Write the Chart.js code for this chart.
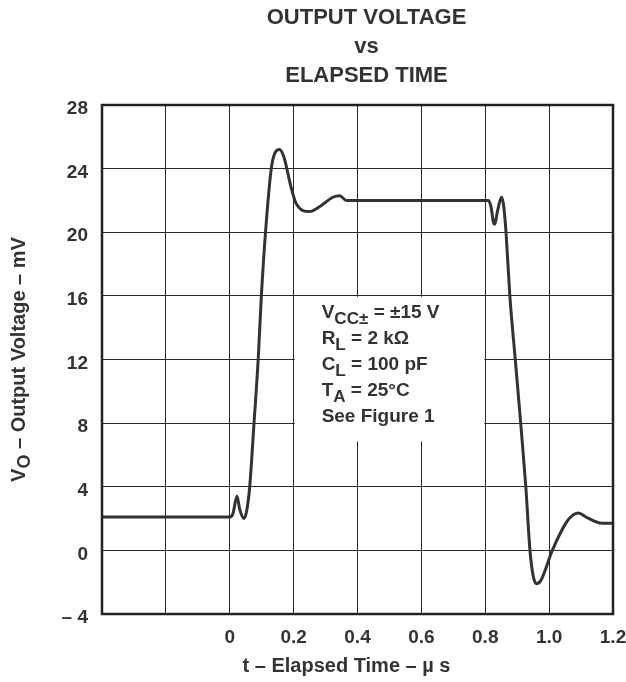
<!DOCTYPE html>
<html>
<head>
<meta charset="utf-8">
<script src="https://cdn.jsdelivr.net/npm/chart.js@4.4.1/dist/chart.umd.min.js"></script>
<style>
  body { margin: 0; background: #fff; }
  #wrap { width: 626px; height: 682px; }
</style>
</head>
<body>
<div id="wrap"><canvas id="voltChart" width="626" height="682"></canvas></div>
<script>
// elapsed time in microseconds, output voltage in mV
const timeUs = [-0.4, 0.0, 0.01, 0.017, 0.023, 0.031, 0.045, 0.054, 0.0625, 0.076, 0.089, 0.099, 0.112, 0.130,
  0.142, 0.156, 0.17, 0.19, 0.208, 0.25, 0.281, 0.323, 0.344, 0.365, 0.4, 0.6, 0.81, 0.818, 0.826, 0.830,
  0.838, 0.852, 0.858, 0.865, 0.877, 0.894, 0.911, 0.927, 0.940, 0.95, 0.96, 0.974, 1.01, 1.052, 1.073, 1.092,
  1.115, 1.146, 1.167, 1.2];
const voltageMv = [2.1, 2.1, 2.3, 3.0, 3.4, 2.6, 2.0, 2.6, 4.0, 8.0, 12.0, 16.0, 20.0, 24.0,
  25.0, 25.2, 24.7, 23.0, 21.8, 21.3, 21.6, 22.2, 22.3, 22.0, 22.0, 22.0, 22.0, 21.6, 20.6, 20.5,
  21.3, 22.2, 21.6, 20.0, 16.0, 12.0, 8.0, 4.0, 0.0, -1.6, -2.1, -1.9, 0.0, 1.7, 2.2, 2.35,
  2.1, 1.8, 1.7, 1.7];

const xTickValues = [-0.4, -0.2, 0, 0.2, 0.4, 0.6, 0.8, 1.0, 1.2];
const xTickLabels = ['', '', '0', '0.2', '0.4', '0.6', '0.8', '1.0', '1.2'];
const yTickValues = [-4, 0, 4, 8, 12, 16, 20, 24, 28];
const yTickLabels = ['– 4', '0', '4', '8', '12', '16', '20', '24', '28'];

const titleLines = ['OUTPUT VOLTAGE', 'vs', 'ELAPSED TIME'];
const conditions = [
  [['V'], ['CC±', 1], [' = ±15 V']],
  [['R'], ['L', 1], [' = 2 kΩ']],
  [['C'], ['L', 1], [' = 100 pF']],
  [['T'], ['A', 1], [' = 25°C']],
  [['See Figure 1']]
];

const FONT = '"Liberation Sans", Arial, sans-serif';
const INK = '#333';

function richWidth(ctx, parts, size) {
  let w = 0;
  parts.forEach(p => {
    ctx.font = 'bold ' + (p[1] ? size * 0.9 : size) + 'px ' + FONT;
    w += ctx.measureText(p[0]).width;
  });
  return w;
}

function drawRich(ctx, parts, x, y, size) {
  let cx = x;
  parts.forEach(p => {
    ctx.font = 'bold ' + (p[1] ? size * 0.9 : size) + 'px ' + FONT;
    ctx.fillText(p[0], cx, p[1] ? y + size * 0.3 : y);
    cx += ctx.measureText(p[0]).width;
  });
}

const decorPlugin = {
  id: 'decor',
  beforeDatasetsDraw(chart) {
    // blank the grid behind the test-condition block
    const { ctx, scales: { x, y } } = chart;
    ctx.save();
    ctx.fillStyle = '#fff';
    const l = x.getPixelForValue(0.2) + 1, r = x.getPixelForValue(0.8) - 1;
    const t = y.getPixelForValue(16) + 1, b = y.getPixelForValue(6.85);
    ctx.fillRect(l, t, r - l, b - t);
    ctx.restore();
  },
  afterDraw(chart) {
    const { ctx, chartArea: a, scales: { x, y } } = chart;
    ctx.save();
    // frame
    ctx.strokeStyle = '#222';
    ctx.lineWidth = 2.5;
    ctx.strokeRect(a.left, a.top, a.right - a.left, a.bottom - a.top);

    ctx.fillStyle = INK;
    ctx.textBaseline = 'middle';
    ctx.textAlign = 'center';
    ctx.font = 'bold 22px ' + FONT;
    const tx = (a.left + a.right) / 2 + 9;
    titleLines.forEach((s, i) => ctx.fillText(s, tx, 18 + i * 29));

    // conditions
    ctx.textAlign = 'left';
    ctx.textBaseline = 'alphabetic';
    const cx = x.getPixelForValue(0.2) + 28;
    let cy = y.getPixelForValue(16) + 22;
    conditions.forEach(line => {
      drawRich(ctx, line, cx, cy, 19);
      cy += 26;
    });

    // x axis title
    ctx.textAlign = 'center';
    ctx.textBaseline = 'middle';
    ctx.font = 'bold 20px ' + FONT;
    ctx.fillText('t – Elapsed Time – µ s', (a.left + a.right) / 2 - 11, 666);

    // y axis title, rotated
    const yParts = [['V'], ['O', 1], [' – Output Voltage – mV']];
    ctx.translate(19, (a.top + a.bottom) / 2);
    ctx.rotate(-Math.PI / 2);
    ctx.textAlign = 'left';
    ctx.textBaseline = 'middle';
    const w = richWidth(ctx, yParts, 20);
    drawRich(ctx, yParts, -w / 2, 0, 20);
    ctx.restore();
  }
};

new Chart(document.getElementById('voltChart').getContext('2d'), {
  type: 'line',
  data: {
    datasets: [{
      data: timeUs.map((t, i) => ({ x: t, y: voltageMv[i] })),
      borderColor: '#333',
      borderWidth: 3,
      pointRadius: 0,
      cubicInterpolationMode: 'monotone',
      fill: false
    }]
  },
  options: {
    responsive: false,
    animation: false,
    layout: { padding: { top: 105, right: 0, left: 0, bottom: 0 } },
    plugins: { legend: { display: false }, tooltip: { enabled: false }, title: { display: false } },
    scales: {
      x: {
        type: 'linear',
        min: -0.4,
        max: 1.2,
        afterBuildTicks: s => { s.ticks = xTickValues.map(v => ({ value: v })); },
        afterFit: s => { s.height = 68; s.paddingRight = 13; },
        grid: { color: '#2a2a2a', lineWidth: 1, drawTicks: false },
        border: { display: false },
        ticks: {
          padding: 12,
          maxRotation: 0,
          autoSkip: false,
          color: INK,
          font: { family: FONT, size: 19, weight: 'bold' },
          callback: (v, i) => xTickLabels[i]
        }
      },
      y: {
        min: -4,
        max: 28,
        afterBuildTicks: s => { s.ticks = yTickValues.map(v => ({ value: v })); },
        afterFit: s => { s.width = 102; },
        grid: { color: '#2a2a2a', lineWidth: 1, drawTicks: false },
        border: { display: false },
        ticks: {
          padding: 14,
          labelOffset: 4,
          autoSkip: false,
          color: INK,
          font: { family: FONT, size: 19, weight: 'bold' },
          callback: (v, i) => yTickLabels[i]
        }
      }
    }
  },
  plugins: [decorPlugin]
});
</script>
</body>
</html>
